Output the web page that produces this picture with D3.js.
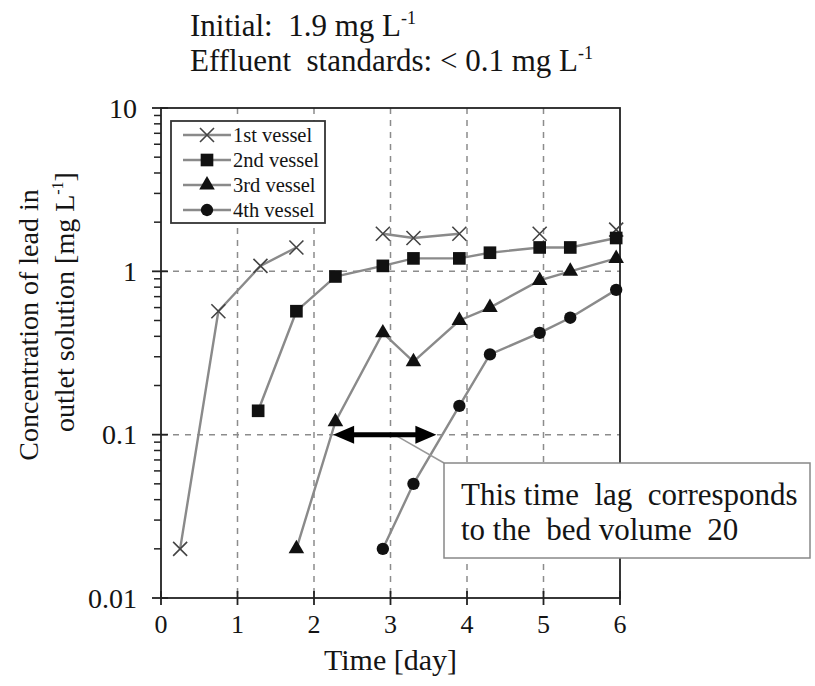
<!DOCTYPE html>
<html>
<head>
<meta charset="utf-8">
<script src="https://cdn.jsdelivr.net/npm/d3@7"></script>
<style>
  body { margin: 0; background: #fff; }
</style>
</head>
<body>
<script>
// time in days, concentration of lead in mg/L
const vesselNames = ["1st vessel", "2nd vessel", "3rd vessel", "4th vessel"];

const vessel1Days = [0.25, 0.75, 1.3, 1.77, 2.9, 3.3, 3.9, 4.95, 5.95];
const vessel1Conc = [0.02, 0.57, 1.08, 1.4, 1.7, 1.6, 1.7, 1.7, 1.8];
const vessel1Run  = [1, 1, 1, 1, 2, 2, 2, 3, 4]; // points only joined within the same run

const vessel2Days = [1.27, 1.77, 2.28, 2.9, 3.3, 3.9, 4.3, 4.95, 5.35, 5.95];
const vessel2Conc = [0.14, 0.57, 0.93, 1.08, 1.2, 1.2, 1.3, 1.4, 1.4, 1.6];

const vessel3Days = [1.77, 2.28, 2.9, 3.3, 3.9, 4.3, 4.95, 5.35, 5.95];
const vessel3Conc = [0.02, 0.12, 0.42, 0.28, 0.5, 0.6, 0.88, 1.0, 1.2];

const vessel4Days = [2.9, 3.3, 3.9, 4.3, 4.95, 5.35, 5.95];
const vessel4Conc = [0.02, 0.05, 0.15, 0.31, 0.42, 0.52, 0.77];

const xTicks = [0, 1, 2, 3, 4, 5, 6];
const yTicks = [0.01, 0.1, 1, 10];
const yTickLabels = ["0.01", "0.1", "1", "10"];

// the bracketed time lag at the 0.1 mg/L standard
const lagStart = 2.25, lagEnd = 3.6, lagLevel = 0.1;

const serif = "'Liberation Serif', 'DejaVu Serif', serif";
const width = 815, height = 686;
const margin = { top: 108, right: 195, bottom: 88, left: 161 };

const svg = d3.select("body").append("svg")
    .attr("width", width)
    .attr("height", height)
    .attr("font-family", serif);

const x = d3.scaleLinear().domain([0, 6]).range([margin.left, width - margin.right]);
const y = d3.scaleLog().domain([0.01, 10]).range([height - margin.bottom, margin.top]);

function txt(sel) {
  return sel.attr("font-family", serif).attr("fill", "#141414");
}

// header text
const head = svg.append("g");
const h1 = txt(head.append("text")).attr("x", 190).attr("y", 36).attr("font-size", 31).attr("xml:space", "preserve");
h1.append("tspan").text("Initial:  1.9 mg L");
h1.append("tspan").attr("dy", -12).attr("font-size", 18).text("-1");
const h2 = txt(head.append("text")).attr("x", 190).attr("y", 71).attr("font-size", 31).attr("xml:space", "preserve");
h2.append("tspan").text("Effluent  standards: < 0.1 mg L");
h2.append("tspan").attr("dy", -12).attr("font-size", 18).text("-1");

// grid
const grid = svg.append("g")
    .attr("stroke", "#8c8c8c")
    .attr("stroke-width", 1.5)
    .attr("stroke-dasharray", "6,6");
grid.selectAll("line.v").data(xTicks.slice(1, -1)).enter().append("line")
    .attr("x1", d => x(d)).attr("x2", d => x(d))
    .attr("y1", y(10)).attr("y2", y(0.01));
grid.selectAll("line.h").data(yTicks.slice(1, -1)).enter().append("line")
    .attr("x1", x(0)).attr("x2", x(6))
    .attr("y1", d => y(d)).attr("y2", d => y(d));

// frame
svg.append("rect")
    .attr("x", x(0)).attr("y", y(10))
    .attr("width", x(6) - x(0)).attr("height", y(0.01) - y(10))
    .attr("fill", "none").attr("stroke", "#222").attr("stroke-width", 1.8);

// y axis, log ticks
const yAxis = svg.append("g").attr("transform", `translate(${x(0)},0)`);
const minor = [];
[0.01, 0.1, 1].forEach(dec => { for (let k = 2; k <= 9; k++) minor.push(dec * k); });
yAxis.selectAll("line.minor").data(minor).enter().append("line")
    .attr("x1", -7).attr("x2", 0)
    .attr("y1", d => y(d)).attr("y2", d => y(d))
    .attr("stroke", "#222").attr("stroke-width", 1.5);
yAxis.selectAll("line.major").data(yTicks).enter().append("line")
    .attr("x1", -9).attr("x2", 7)
    .attr("y1", d => y(d)).attr("y2", d => y(d))
    .attr("stroke", "#222").attr("stroke-width", 1.8);
yAxis.selectAll("text").data(yTicks).enter().append("text")
    .call(txt)
    .attr("x", -24).attr("y", d => y(d)).attr("dy", "0.35em")
    .attr("text-anchor", "end")
    .attr("font-size", 28)
    .text((d, i) => yTickLabels[i]);

// x axis
const xAxis = svg.append("g").attr("transform", `translate(0,${y(0.01)})`);
xAxis.selectAll("line").data(xTicks).enter().append("line")
    .attr("x1", d => x(d)).attr("x2", d => x(d))
    .attr("y1", -7).attr("y2", 7)
    .attr("stroke", "#222").attr("stroke-width", 1.8);
xAxis.selectAll("text").data(xTicks).enter().append("text")
    .call(txt)
    .attr("x", d => x(d)).attr("y", 35)
    .attr("text-anchor", "middle")
    .attr("font-size", 26)
    .text(d => d);

txt(svg.append("text"))
    .attr("x", (x(0) + x(6)) / 2).attr("y", 670)
    .attr("text-anchor", "middle")
    .attr("font-size", 30)
    .text("Time [day]");

// y label, two lines
txt(svg.append("text"))
    .attr("transform", "translate(38,325) rotate(-90)")
    .attr("text-anchor", "middle")
    .attr("font-size", 28)
    .text("Concentration of lead in");
const yl2 = txt(svg.append("text"))
    .attr("transform", "translate(74,302) rotate(-90)")
    .attr("text-anchor", "middle")
    .attr("font-size", 28);
yl2.append("tspan").text("outlet solution [mg L");
yl2.append("tspan").attr("dy", -11).attr("font-size", 16).text("-1");
yl2.append("tspan").attr("dy", 11).text("]");

// series
const series = [
  { name: vesselNames[0], pts: vessel1Days.map((d, i) => ({ t: d, c: vessel1Conc[i], run: vessel1Run[i] })), sym: "x" },
  { name: vesselNames[1], pts: vessel2Days.map((d, i) => ({ t: d, c: vessel2Conc[i], run: 1 })), sym: d3.symbolSquare },
  { name: vesselNames[2], pts: vessel3Days.map((d, i) => ({ t: d, c: vessel3Conc[i], run: 1 })), sym: d3.symbolTriangle },
  { name: vesselNames[3], pts: vessel4Days.map((d, i) => ({ t: d, c: vessel4Conc[i], run: 1 })), sym: d3.symbolCircle }
];

const line = d3.line().x(d => x(d.t)).y(d => y(d.c));
const lineColor = "#8a8a8a";

function marker(g, s) {
  if (s.sym === "x") {
    g.append("path")
      .attr("d", "M-7,-7L7,7M-7,7L7,-7")
      .attr("stroke", "#444").attr("stroke-width", 1.6).attr("fill", "none");
  } else {
    const size = s.sym === d3.symbolCircle ? 120 : s.sym === d3.symbolTriangle ? 105 : 160;
    g.append("path")
      .attr("d", d3.symbol().type(s.sym).size(size)())
      .attr("fill", "#111");
  }
}

series.forEach(s => {
  const runs = d3.groups(s.pts, d => d.run);
  runs.forEach(([, pts]) => {
    if (pts.length > 1) {
      svg.append("path")
        .attr("d", line(pts))
        .attr("fill", "none")
        .attr("stroke", lineColor)
        .attr("stroke-width", 2.4);
    }
  });
  s.pts.forEach(p => {
    const g = svg.append("g").attr("transform", `translate(${x(p.t)},${y(p.c)})`);
    marker(g, s);
  });
});

// legend
const legend = svg.append("g").attr("transform", "translate(171,121)");
legend.append("rect")
  .attr("width", 154).attr("height", 102)
  .attr("fill", "#fff").attr("stroke", "#333").attr("stroke-width", 1.8);
series.forEach((s, i) => {
  const row = legend.append("g").attr("transform", `translate(0,${14 + i * 25})`);
  row.append("line").attr("x1", 12).attr("x2", 60)
    .attr("stroke", lineColor).attr("stroke-width", 2.4);
  const m = row.append("g").attr("transform", "translate(36,0)");
  marker(m, s);
  txt(row.append("text")).attr("x", 62).attr("dy", "0.35em")
    .attr("font-size", 20.5).text(s.name);
});

// time lag arrow
const ax1 = x(lagStart), ax2 = x(lagEnd), ay = y(lagLevel);
svg.append("line")
  .attr("x1", x(3.05)).attr("y1", ay)
  .attr("x2", 444).attr("y2", 463)
  .attr("stroke", "#999").attr("stroke-width", 1.5);
svg.append("line")
  .attr("x1", ax1 + 12).attr("x2", ax2 - 12)
  .attr("y1", ay).attr("y2", ay)
  .attr("stroke", "#000").attr("stroke-width", 5);
svg.append("path")
  .attr("d", `M${ax1},${ay}L${ax1 + 21},${ay - 9}L${ax1 + 21},${ay + 9}Z`)
  .attr("fill", "#000");
svg.append("path")
  .attr("d", `M${ax2},${ay}L${ax2 - 21},${ay - 9}L${ax2 - 21},${ay + 9}Z`)
  .attr("fill", "#000");

// callout
const note = svg.append("g").attr("transform", "translate(444,463)");
note.append("rect")
  .attr("width", 366).attr("height", 95)
  .attr("fill", "#fff").attr("stroke", "#888").attr("stroke-width", 1.5);
txt(note.append("text")).attr("x", 17).attr("y", 42)
  .attr("font-size", 31).attr("xml:space", "preserve")
  .text("This time  lag  corresponds");
txt(note.append("text")).attr("x", 17).attr("y", 77)
  .attr("font-size", 31).attr("xml:space", "preserve")
  .text("to the  bed volume  20");
</script>
</body>
</html>
